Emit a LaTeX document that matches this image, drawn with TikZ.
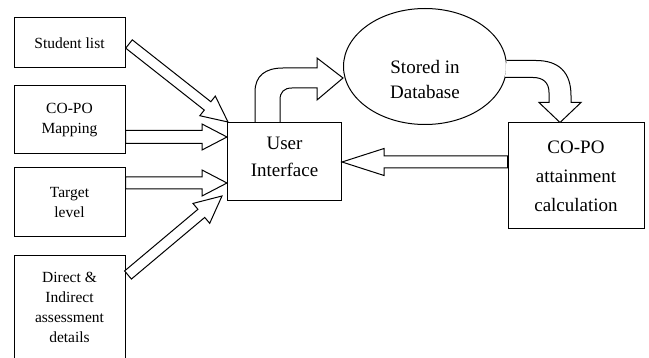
\documentclass[tikz,border=0pt]{standalone}
\usepackage{fontspec}
\setmainfont{Liberation Serif}
\usetikzlibrary{calc,shapes.geometric}
\newcommand\blockarr[5]{%
  \path ($(#2)!#5!(#1)$) coordinate (hb);
  \draw[barrow] ($(#1)!#3!90:(#2)$) -- ($(hb)!#3!90:(#2)$) -- ($(hb)!#4!90:(#2)$) -- (#2)
    -- ($(hb)!#4!-90:(#2)$) -- ($(hb)!#3!-90:(#2)$) -- ($(#1)!#3!-90:(#2)$) -- cycle;}
\tikzset{
  box/.style={draw=black, line width=1pt, fill=white, inner sep=2pt, align=center},
  smalltxt/.style={font=\fontsize{15.5}{20}\selectfont},
  bigtxt/.style={font=\fontsize{19}{27}\selectfont, align=center},
  barrow/.style={draw=black, line width=1pt, line join=miter, fill=white},
}
\begin{document}
\begin{tikzpicture}[x=1pt,y=-1pt]
\useasboundingbox (0,0) rectangle (649,358);
% left boxes
\node[box, smalltxt, minimum width=111pt, minimum height=50pt] (stud) at (69.5,43) {Student list};
\node[box, smalltxt, minimum width=111pt, minimum height=68pt] (map) at (69.5,120) {CO-PO\\Mapping};
\node[box, smalltxt, minimum width=111pt, minimum height=69pt] (targ) at (69.5,202.5) {Target\\level};
\node[box, smalltxt, minimum width=111pt, minimum height=103pt] (dir) at (69.5,307.5) {Direct \&\\Indirect\\assessment\\details};
% user interface
\node[box, minimum width=114pt, minimum height=78pt] (ui) at (284.5,161.5) {};
\node[bigtxt] (uitext) at ($(ui.center)+(0,-4.5)$) {User\\Interface};
% database
\node[ellipse, draw=black, line width=1pt, minimum width=163pt, minimum height=116pt, inner sep=0pt] (db) at (425,66.5) {};
\node[bigtxt, font=\fontsize{19}{25}\selectfont] (dbtext) at ($(db.center)+(0,13.5)$) {Stored in\\Database};
% calculation
\node[box, bigtxt, font=\fontsize{19}{29}\selectfont, minimum width=136pt, minimum height=106pt] (calc) at (576,176) {CO-PO\\attainment\\calculation};
% arrow end points
\coordinate (a1) at ($(stud.east)+(3.5,1)$);
\coordinate (b1) at ($(ui.north west)+(1,0)$);
\coordinate (a2) at ($(map.east)+(0,17)$);
\coordinate (b2) at (ui.west |- a2);
\coordinate (a3) at ($(targ.east)+(0,-19.5)$);
\coordinate (b3) at (ui.west |- a3);
\coordinate (a4) at ($(dir.east)+(2.5,-32.5)$);
\coordinate (b4) at ($(ui.south west)+(-5,-5)$);
\coordinate (a7) at ($(calc.west)+(0,-14)$);
\coordinate (b7) at (ui.east |- a7);
% straight block arrows
\blockarr{a1}{b1}{5.3pt}{12.5pt}{26pt}
\blockarr{a2}{b2}{6.5pt}{13pt}{25pt}
\blockarr{a3}{b3}{6pt}{13pt}{25pt}
\blockarr{a4}{b4}{5.3pt}{13pt}{27pt}
\blockarr{a7}{b7}{6pt}{13.5pt}{42pt}
% curved block arrow: UI -> Database
\draw[barrow, shift={(ui.north)}]
  (-29.5,0) -- (-29.5,-30) .. controls (-29.5,-46) and (-19.5,-54) .. (-1.5,-54)
  -- (32.5,-54) -- (32.5,-64) -- (58.5,-44) -- (32.5,-22) -- (32.5,-34)
  -- (7.5,-34) .. controls (-0.5,-34) and (-4.5,-30) .. (-4.5,-22) -- (-4.5,0);
% curved block arrow: Database -> calculation
\draw[barrow, shift={(db.east)}]
  (-0.5,-6) -- (29,-6) .. controls (52,-6) and (64,6) .. (64,29)
  -- (64,36) -- (74,36) -- (53,56) -- (32,36) -- (42,36)
  -- (42,26) .. controls (42,16) and (36,11) .. (26,11) -- (-2,11);
\end{tikzpicture}
\end{document}
